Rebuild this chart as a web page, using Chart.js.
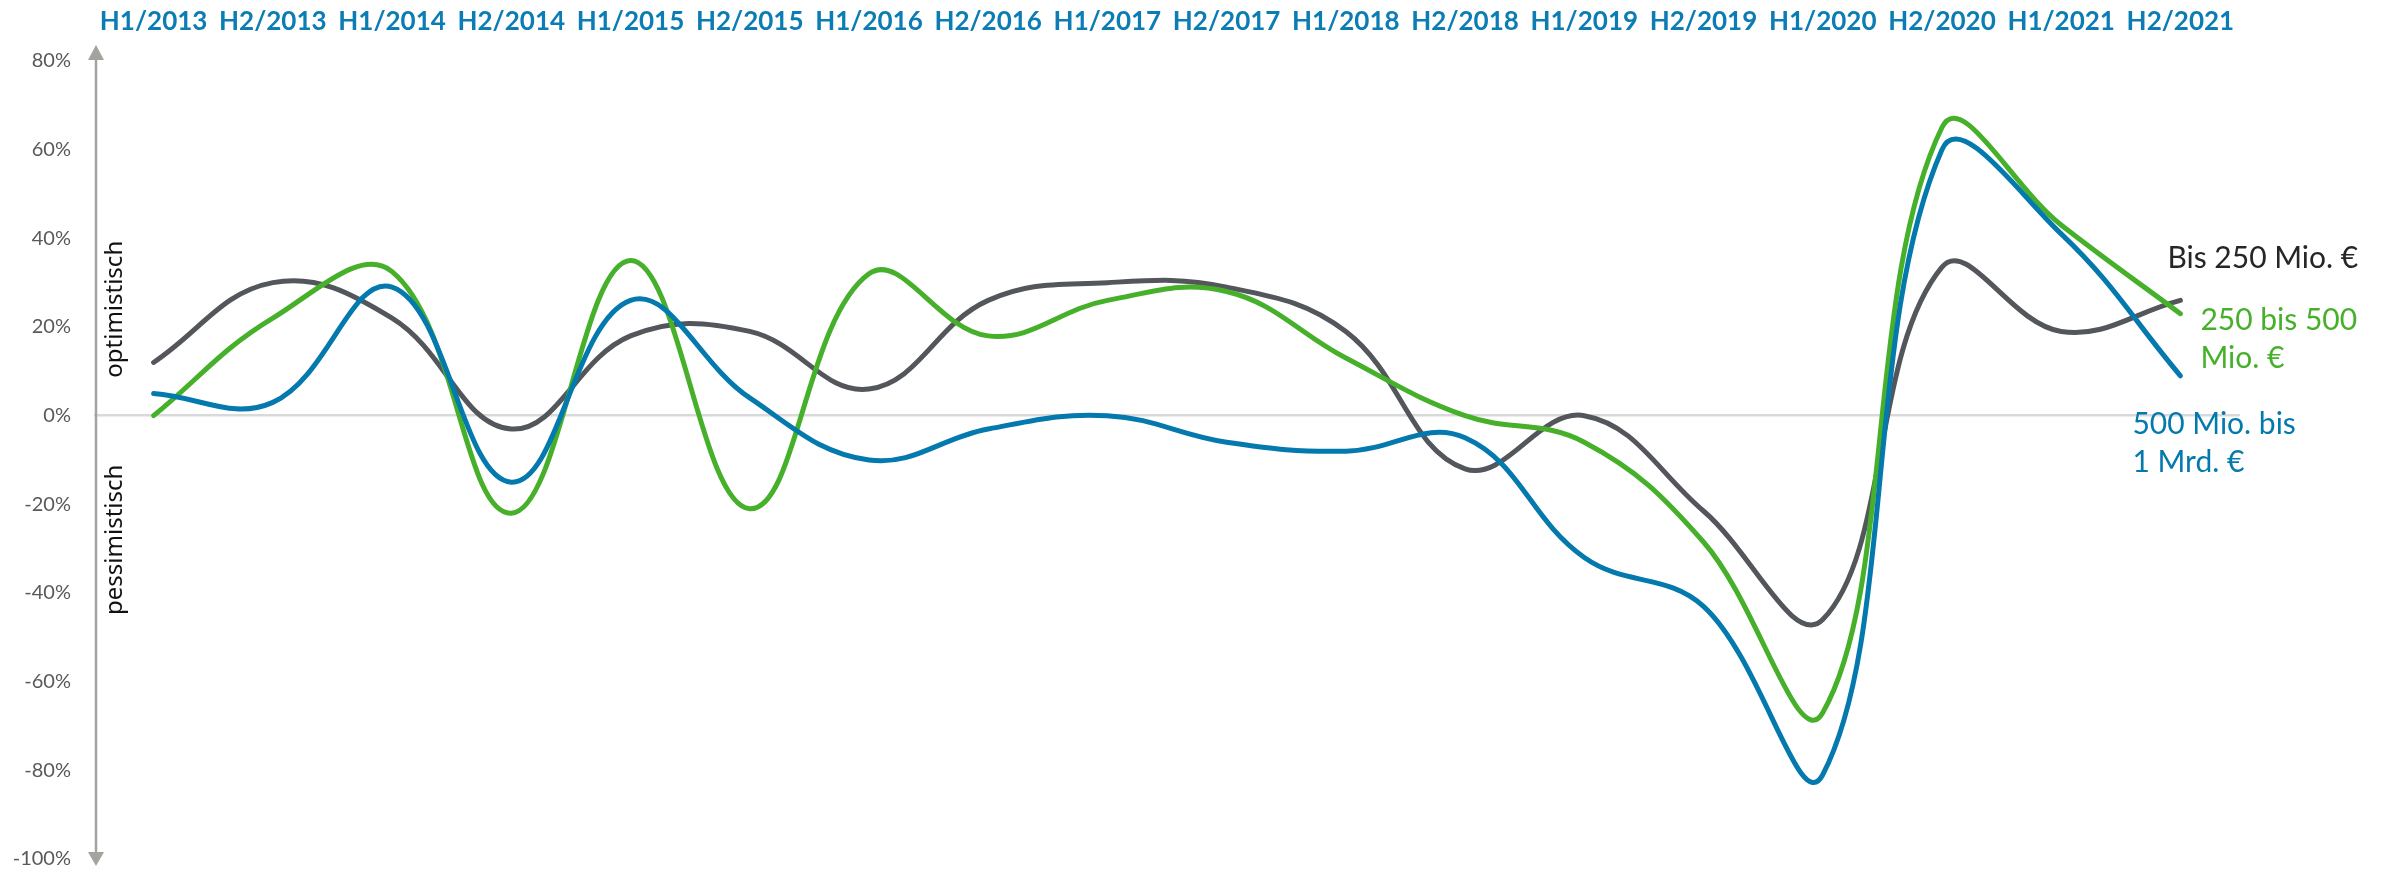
<!DOCTYPE html>
<html>
<head>
<meta charset="utf-8">
<script src="https://cdn.jsdelivr.net/npm/chart.js@4/dist/chart.umd.min.js"></script>
<style>
html,body{margin:0;padding:0;background:#ffffff;overflow:hidden;}
#wrap{width:2384px;height:869px;position:relative;}
canvas{display:block;}
</style>
</head>
<body>
<div id="wrap"><canvas id="c" width="2384" height="869"></canvas></div>
<script>
// ---- data ----
const categories = ['H1/2013','H2/2013','H1/2014','H2/2014','H1/2015','H2/2015','H1/2016','H2/2016','H1/2017','H2/2017','H1/2018','H2/2018','H1/2019','H2/2019','H1/2020','H2/2020','H1/2021','H2/2021'];
const seriesBis250 = [12, 30, 22, -3, 18, 19, 6, 26, 30, 29, 19, -12, 0, -21.5, -46, 33.5, 19, 26];
const series250bis500 = [0, 22, 32.5, -22, 35, -21, 32, 18, 26, 28, 13, 0, -6, -28.5, -67, 65, 43, 23];
const series500bis1Mrd = [5, 3, 29, -15, 26, 4, -10, -3, 0, -6, -8, -5, -32, -43, -81, 60, 41, 9];
const seriesNames = ['Bis 250 Mio. €', '250 bis 500 Mio. €', '500 Mio. bis 1 Mrd. €'];
const yMin = -100, yMax = 80, yStep = 20;
const labelBis250 = ['Bis 250 Mio. €'];
const label250bis500 = ['250 bis 500', 'Mio. €'];
const label500bis1Mrd = ['500 Mio. bis', '1 Mrd. €'];
const captionUp = 'optimistisch';
const captionDown = 'pessimistisch';

// ---- styles / layout ----
const cGray = '#53565b', cGreen = '#47b02b', cBlue = '#0479ae';
const cAxisLabel = '#0b7db4';
const AREA = { left: 94, top: 61, right: 2240, bottom: 859 };

const decorations = {
  id: 'decorations',
  beforeDatasetsDraw(chart) {
    const ctx = chart.ctx, a = chart.chartArea;
    const x = a.left + 2;
    ctx.save();
    ctx.strokeStyle = '#a3a39f';
    ctx.fillStyle = '#a3a39f';
    ctx.lineWidth = 2.5;
    ctx.beginPath();
    ctx.moveTo(x, a.top - 4);
    ctx.lineTo(x, a.bottom + 2);
    ctx.stroke();
    ctx.beginPath();
    ctx.moveTo(x, a.top - 16);
    ctx.lineTo(x - 8, a.top - 1);
    ctx.lineTo(x + 8, a.top - 1);
    ctx.closePath();
    ctx.fill();
    ctx.beginPath();
    ctx.moveTo(x, a.bottom + 7);
    ctx.lineTo(x - 8, a.bottom - 7);
    ctx.lineTo(x + 8, a.bottom - 7);
    ctx.closePath();
    ctx.fill();
    const ys = chart.scales.y;
    ctx.font = '24px "Noto Sans", "Open Sans", sans-serif';
    ctx.fillStyle = '#111111';
    ctx.textAlign = 'center';
    ctx.textBaseline = 'middle';
    [[captionUp, 24], [captionDown, -28]].forEach(([t, v]) => {
      ctx.save();
      ctx.translate(a.left + 21, ys.getPixelForValue(v));
      ctx.rotate(-Math.PI / 2);
      ctx.fillText(t, 0, 0);
      ctx.restore();
    });
    ctx.restore();
  },
  afterDraw(chart) {
    const ctx = chart.ctx;
    const xs = chart.scales.x, ys = chart.scales.y;
    const lastX = xs.getPixelForValue(categories.length - 1);
    ctx.save();
    ctx.font = '30px Lato, "Noto Sans", sans-serif';
    ctx.textAlign = 'left';
    ctx.textBaseline = 'middle';
    const lh = 38;
    const groups = [
      [labelBis250, '#262626', lastX - 13, ys.getPixelForValue(35.5)],
      [label250bis500, cGreen, lastX + 20, ys.getPixelForValue(21.5)],
      [label500bis1Mrd, cBlue, lastX - 48, ys.getPixelForValue(-2)]
    ];
    groups.forEach(([lines, col, x0, y0]) => {
      ctx.fillStyle = col;
      lines.forEach((t, i) => ctx.fillText(t, x0, y0 + i * lh));
    });
    ctx.restore();
  }
};

const mkDs = (label, data, color, order) => ({
  label, data, borderColor: color, backgroundColor: color,
  borderWidth: 5, pointRadius: 0, pointHoverRadius: 0,
  tension: 0.4, fill: false, order,
  borderCapStyle: 'round', borderJoinStyle: 'round'
});

const chart = new Chart(document.getElementById('c'), {
  type: 'line',
  data: {
    labels: categories,
    datasets: [
      mkDs(seriesNames[0], seriesBis250, cGray, 3),
      mkDs(seriesNames[1], series250bis500, cGreen, 2),
      mkDs(seriesNames[2], series500bis1Mrd, cBlue, 1)
    ]
  },
  options: {
    responsive: false,
    devicePixelRatio: 1,
    animation: false,
    layout: { padding: { left: 0, top: 0, right: 2384 - AREA.right, bottom: 869 - AREA.bottom } },
    plugins: { legend: { display: false }, tooltip: { enabled: false } },
    scales: {
      x: {
        type: 'category',
        position: 'top',
        offset: true,
        grid: { display: false, drawTicks: false },
        border: { display: false },
        ticks: {
          color: cAxisLabel,
          font: { family: 'Lato', size: 26, weight: 'bold' },
          padding: 24,
          maxRotation: 0, minRotation: 0, autoSkip: false
        },
        afterFit(scale) { scale.height = AREA.top; scale.paddingLeft = 0; scale.paddingRight = 0; }
      },
      y: {
        min: yMin, max: yMax,
        grid: {
          drawTicks: false,
          lineWidth: 2.5,
          color: (c) => (c.tick && c.tick.value === 0) ? '#d9d9d9' : 'rgba(0,0,0,0)'
        },
        border: { display: false },
        ticks: {
          stepSize: yStep,
          color: '#595959',
          font: { family: 'Lato', size: 20 },
          padding: 23,
          callback: (v) => v + '%'
        },
        afterFit(scale) { scale.width = AREA.left; scale.paddingTop = 0; scale.paddingBottom = 0; }
      }
    }
  },
  plugins: [decorations]
});

// fine-tune layout padding so the plot area lands where the reference has it
(function adjust() {
  const p = chart.options.layout.padding;
  for (let k = 0; k < 3; k++) {
    const a = chart.chartArea;
    const db = a.bottom - AREA.bottom, dr = a.right - AREA.right;
    if (Math.abs(db) < 0.5 && Math.abs(dr) < 0.5) break;
    p.bottom += db;
    p.right += dr;
    chart.update();
  }
})();
</script>
</body>
</html>
